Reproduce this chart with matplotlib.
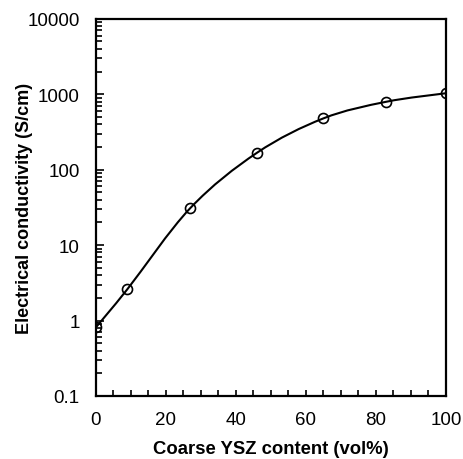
"""Electrical conductivity vs coarse YSZ content."""

import matplotlib

matplotlib.use("Agg")
import matplotlib.pyplot as plt
import numpy as np
from matplotlib.patches import PathPatch
from matplotlib.path import Path
from matplotlib.ticker import FixedLocator, LogLocator, NullFormatter

plt.rcParams["font.family"] = ["Liberation Sans", "DejaVu Sans"]

ysz_content = [0, 9, 27, 46, 65, 83, 100]
conductivity = [0.81, 2.6, 31, 167, 478, 795, 1030]
x_ticks = [0, 20, 40, 60, 80, 100]
y_ticks = [0.1, 1, 10, 100, 1000, 10000]
y_tick_labels = ["0.1", "1", "10", "100", "1000", "10000"]


def smooth_path(xs, ys):
    # Catmull-Rom style bezier through the measured points, done in log space
    pts = np.column_stack([xs, np.log10(ys)])
    pts = np.vstack([pts[0], pts, pts[-1]])
    verts = [pts[1]]
    codes = [Path.MOVETO]
    for i in range(1, len(pts) - 2):
        c1 = pts[i] + (pts[i + 1] - pts[i - 1]) / 6
        c2 = pts[i + 1] - (pts[i + 2] - pts[i]) / 6
        verts += [c1, c2, pts[i + 1]]
        codes += [Path.CURVE4] * 3
    verts = np.array(verts)
    verts[:, 1] = 10 ** verts[:, 1]
    return Path(verts, codes)


fig = plt.figure(figsize=(4.63, 4.6), dpi=100)
ax = fig.add_axes([0.207, 0.137, 0.756, 0.82])

ax.add_patch(PathPatch(smooth_path(ysz_content, conductivity),
                       facecolor="none", edgecolor="black", linewidth=1.5))
ax.plot(ysz_content, conductivity, "o", markersize=7.2, markerfacecolor="none",
        markeredgecolor="black", markeredgewidth=1.2)

ax.set_yscale("log")
ax.set_xlim(0, 100)
ax.set_ylim(0.1, 10000)

ax.xaxis.set_major_locator(FixedLocator(x_ticks))
ax.xaxis.set_minor_locator(FixedLocator(range(0, 101, 5)))
ax.set_yticks(y_ticks)
ax.set_yticklabels(y_tick_labels)
ax.yaxis.set_minor_locator(LogLocator(base=10, subs=np.arange(2, 10)))
ax.yaxis.set_minor_formatter(NullFormatter())

ax.tick_params(which="both", direction="in", top=False, right=False,
               labelsize=13.5, width=1.2)
ax.tick_params(axis="x", which="both", length=4, pad=11)
ax.tick_params(axis="y", which="major", length=6, pad=11.5)
ax.tick_params(axis="y", which="minor", length=4)

for spine in ax.spines.values():
    spine.set_linewidth(1.6)

ax.set_xlabel("Coarse YSZ content (vol%)", fontsize=13.3, fontweight="bold")
ax.set_ylabel("Electrical conductivity (S/cm)", fontsize=13, fontweight="bold")
ax.xaxis.set_label_coords(0.5, -0.117)
ax.yaxis.set_label_coords(-0.179, 0.5)

plt.savefig("out.png", dpi=100)
plt.close()
